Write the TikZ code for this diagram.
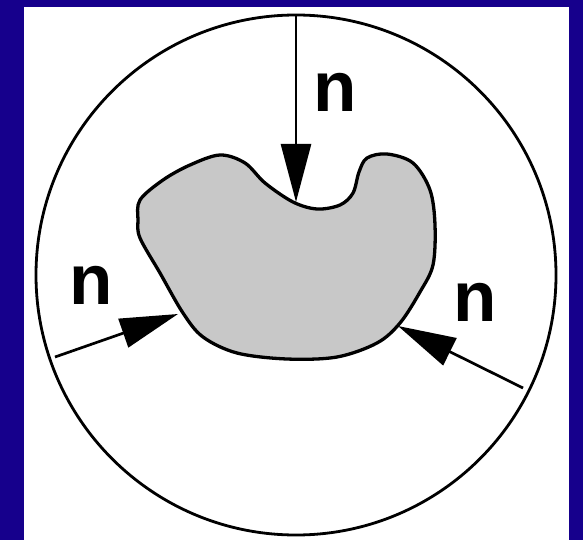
\documentclass[tikz,border=0pt]{standalone}
\usepackage{fontspec}
\setmainfont{Liberation Sans}
\usetikzlibrary{arrows.meta}
\definecolor{bgblue}{RGB}{22,0,140}
\definecolor{blobgray}{RGB}{200,200,200}
\begin{document}
\begin{tikzpicture}[x=1pt,y=-1pt,
  lab/.style={font=\fontsize{71}{71}\selectfont\bfseries, inner sep=0pt},
  force/.style={line width=2.7pt, -{Triangle[length=58pt,width=30pt]}},
  outline/.style={line width=2.8pt}]
\fill[bgblue] (0,0) rectangle (583,540);
\useasboundingbox (0,0) rectangle (583,540);
\fill[white] (24,7) rectangle (569,540);
\draw[outline] (296,275) circle (260);
\draw[line width=3.3pt, fill=blobgray, line join=round]
  plot[smooth cycle, tension=0.55] coordinates {
  (140,200) (163,180) (190,165) (220,155) (245,163) (265,183)
  (293,202) (317,209) (340,205) (353,193) (359,172) (367,158)
  (387,154) (413,163) (430,190) (435,225) (433,265) (420,292)
  (400,323) (377,343) (337,357) (287,359) (237,353) (203,337)
  (183,313) (160,273) (140,238) (138,220)};
\coordinate (topstart) at (296,14);
\coordinate (topend) at (296,202);
\coordinate (leftstart) at (55,357);
\coordinate (leftend) at (178,314);
\coordinate (rightstart) at (523,388);
\coordinate (rightend) at (398,326);
\draw[force] (topstart) -- (topend);
\draw[force] (leftstart) -- (leftend);
\draw[force] (rightstart) -- (rightend);
\node[lab] (ntop) at (335,92) {n};
\node[lab] (nleft) at (91.5,285) {n};
\node[lab] (nright) at (475,302.5) {n};
\end{tikzpicture}
\end{document}
